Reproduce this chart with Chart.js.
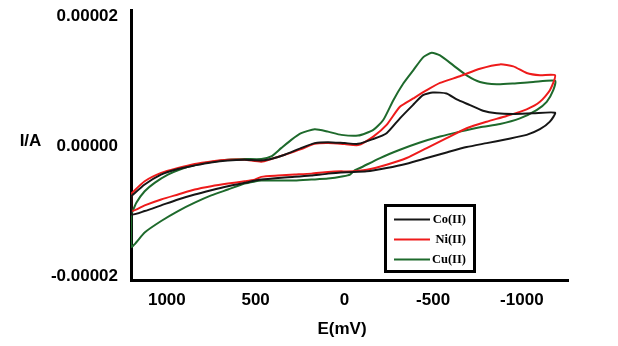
<!DOCTYPE html>
<html><head><meta charset="utf-8">
<script src="https://cdn.jsdelivr.net/npm/chart.js@4.4.1/dist/chart.umd.min.js"></script>
<style>html,body{margin:0;padding:0;background:#fff;overflow:hidden}canvas{display:block}</style>
</head><body>
<canvas id="c" width="618" height="346"></canvas>
<script>
// ---- data (E in mV, I in A) ----
const seriesNames = ['Co(II)', 'Ni(II)', 'Cu(II)'];

const coE = [1200,1125,1033,937,843,752,656,562,470,414,336,245,167,92,-2,-77,-161,-238,-313,-386,-443,-499,-576,-633,-708,-781,-858,-950,-1063,-1187,-1158,-1102,-1027,-914,-802,-689,-576,-464,-351,-238,-126,-13,92,188,280,374,468,562,656,750,843,937,1032,1125,1200,1200];
const coI = [-7.68e-6,-5.89e-6,-4.36e-6,-3.49e-6,-2.94e-6,-2.48e-6,-2.17e-6,-2.07e-6,-2.17e-6,-1.96e-6,-1.30e-6,-0.28e-6,0.49e-6,0.64e-6,0.49e-6,0.38e-6,1.10e-6,2.02e-6,4.31e-6,6.35e-6,7.88e-6,8.29e-6,8.14e-6,7.22e-6,6.35e-6,5.48e-6,5.08e-6,4.97e-6,5.08e-6,5.17e-6,3.79e-6,2.63e-6,1.76e-6,1.10e-6,0.49e-6,-0.12e-6,-0.95e-6,-1.81e-6,-2.68e-6,-3.34e-6,-3.86e-6,-4.01e-6,-4.21e-6,-4.51e-6,-4.71e-6,-4.87e-6,-5.13e-6,-5.63e-6,-6.15e-6,-6.76e-6,-7.42e-6,-8.19e-6,-9.10e-6,-9.98e-6,-10.48e-6,-7.68e-6];

const niE = [1200,1125,1032,937,843,750,656,562,468,412,336,243,167,92,-2,-77,-163,-238,-313,-388,-464,-539,-651,-764,-877,-952,-1027,-1102,-1187,-1158,-1102,-1027,-914,-802,-689,-576,-464,-351,-238,-126,-13,17,92,186,280,374,468,505,562,656,750,843,937,1032,1125,1200,1200];
const niI = [-7.27e-6,-5.39e-6,-4.10e-6,-3.34e-6,-2.72e-6,-2.33e-6,-2.07e-6,-2.07e-6,-2.37e-6,-1.96e-6,-1.30e-6,-0.43e-6,0.38e-6,0.49e-6,0.34e-6,0.18e-6,1.50e-6,3.29e-6,6.09e-6,7.37e-6,8.64e-6,9.76e-6,10.79e-6,11.96e-6,12.62e-6,12.32e-6,11.29e-6,10.94e-6,10.94e-6,8.64e-6,6.85e-6,5.69e-6,4.67e-6,3.79e-6,2.78e-6,1.25e-6,-0.28e-6,-1.81e-6,-2.83e-6,-3.60e-6,-3.90e-6,-3.86e-6,-3.95e-6,-4.21e-6,-4.36e-6,-4.51e-6,-4.71e-6,-5.13e-6,-5.39e-6,-5.74e-6,-6.15e-6,-6.66e-6,-7.42e-6,-8.19e-6,-9.10e-6,-9.98e-6,-7.27e-6];

const cuE = [1200,1172,1125,1069,994,919,843,750,656,562,468,412,356,299,243,167,92,17,-77,-163,-219,-276,-332,-388,-445,-492,-539,-614,-689,-764,-858,-952,-1064,-1187,-1177,-1140,-1083,-989,-877,-764,-651,-539,-426,-313,-201,-88,-60,-32,6,92,186,280,374,468,505,562,656,750,843,937,1032,1125,1200,1200];
const cuI = [-10.48e-6,-8.69e-6,-6.92e-6,-5.63e-6,-4.36e-6,-3.49e-6,-2.88e-6,-2.42e-6,-2.07e-6,-1.96e-6,-1.96e-6,-1.56e-6,-0.28e-6,0.99e-6,2.02e-6,2.63e-6,2.26e-6,1.76e-6,1.65e-6,2.52e-6,4.05e-6,7.11e-6,9.67e-6,11.70e-6,13.74e-6,14.41e-6,14.00e-6,12.47e-6,10.94e-6,9.91e-6,9.56e-6,9.67e-6,9.91e-6,10.10e-6,8.64e-6,6.85e-6,5.58e-6,4.31e-6,3.44e-6,2.94e-6,2.26e-6,1.50e-6,0.58e-6,-0.54e-6,-1.81e-6,-3.34e-6,-3.67e-6,-4.36e-6,-4.62e-6,-4.97e-6,-5.13e-6,-5.28e-6,-5.28e-6,-5.28e-6,-5.43e-6,-5.74e-6,-6.66e-6,-7.57e-6,-8.69e-6,-9.98e-6,-11.51e-6,-13.28e-6,-15.48e-6,-10.48e-6];

const xTickValues = [1000, 500, 0, -500, -1000];
const yTickValues = [-0.00002, 0, 0.00002];
const xAxisTitle = 'E(mV)';
const yAxisTitle = 'I/A';

// ---- styling ----
const colors = ['#161616', '#ee1b1b', '#1e6a2c'];
const SANS = "'Liberation Sans', Arial, sans-serif";
const SERIF = "'Liberation Serif', 'Times New Roman', serif";

function toPoints(es, is) { return es.map((e, k) => ({ x: e, y: is[k] })); }

const datasets = [[coE, coI], [niE, niI], [cuE, cuI]].map(([e, i], k) => ({
  label: seriesNames[k],
  data: toPoints(e, i),
  borderColor: colors[k],
  backgroundColor: colors[k],
  borderWidth: 2,
  pointRadius: 0,
  tension: 0.2,
  fill: false
}));

const boxLegend = {
  id: 'boxLegend',
  afterDraw(chart) {
    const ctx = chart.ctx;
    ctx.save();
    ctx.fillStyle = '#fff';
    ctx.fillRect(385, 205, 90, 67);
    ctx.lineWidth = 3;
    ctx.strokeStyle = '#000';
    ctx.strokeRect(385.5, 205.5, 89, 66);
    const rows = [219.5, 239.5, 259.5];
    chart.data.datasets.forEach((ds, k) => {
      ctx.beginPath();
      ctx.moveTo(394, rows[k]);
      ctx.lineTo(430, rows[k]);
      ctx.lineWidth = 2;
      ctx.strokeStyle = ds.borderColor;
      ctx.stroke();
      ctx.font = 'bold 12.5px ' + SERIF;
      ctx.fillStyle = '#000';
      ctx.textAlign = 'right';
      ctx.textBaseline = 'middle';
      ctx.fillText(ds.label, 466, rows[k] + 0.5);
    });
    ctx.font = 'bold 17px ' + SANS;
    ctx.fillStyle = '#000';
    ctx.textAlign = 'center';
    ctx.textBaseline = 'middle';
    ctx.fillText(yAxisTitle, 30.5, 141);
    ctx.fillText(xAxisTitle, 342, 329);
    ctx.restore();
  }
};

new Chart(document.getElementById('c'), {
  type: 'line',
  data: { datasets },
  options: {
    responsive: false,
    devicePixelRatio: 1,
    animation: false,
    layout: { padding: { top: 10, right: 50, left: 0, bottom: 0 }, autoPadding: false },
    plugins: { legend: { display: false }, tooltip: { enabled: false } },
    scales: {
      x: {
        type: 'linear',
        reverse: true,
        min: -1260,
        max: 1202,
        afterBuildTicks: s => { s.ticks = xTickValues.map(v => ({ value: v })); },
        afterFit: s => { s.height = 66; s.paddingLeft = 0; s.paddingRight = 0; },
        grid: { display: false, drawTicks: false },
        border: { display: true, color: '#000', width: 3 },
        ticks: {
          font: { family: SANS, size: 17, weight: 'bold' },
          color: '#000', padding: 10, maxRotation: 0, autoSkip: false,
          callback: v => String(v)
        }
      },
      y: {
        type: 'linear',
        min: -0.0000206,
        max: 0.000021,
        afterBuildTicks: s => { s.ticks = yTickValues.map(v => ({ value: v })); },
        afterFit: s => { s.width = 131; s.paddingTop = 0; s.paddingBottom = 0; },
        grid: { display: false, drawTicks: false },
        border: { display: true, color: '#000', width: 3 },
        ticks: {
          font: { family: SANS, size: 17, weight: 'bold' },
          color: '#000', padding: 13, autoSkip: false,
          callback: v => Number(v).toFixed(5)
        }
      }
    }
  },
  plugins: [boxLegend]
});
</script>
</body></html>
